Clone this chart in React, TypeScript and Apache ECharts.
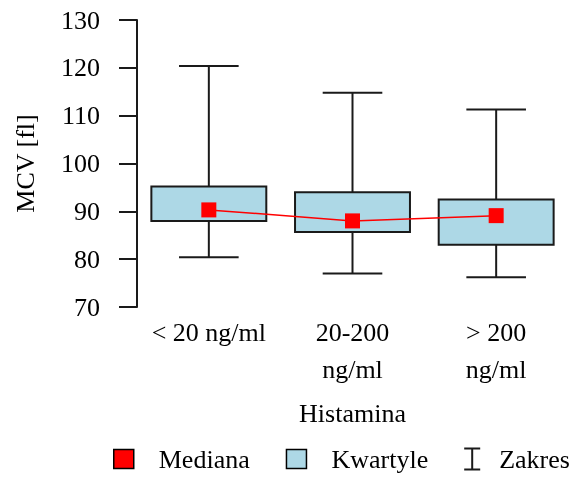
import React, { useEffect, useRef } from "react";
import * as echarts from "echarts";

const categories = ["< 20 ng/ml", "20-200\nng/ml", "> 200\nng/ml"];
const medians = [90.3, 88.0, 89.1];
const q1 = [88.0, 85.7, 83.0];
const q3 = [95.2, 94.0, 92.5];
const mins = [80.4, 77.0, 76.2];
const maxs = [120.4, 114.8, 111.3];
const yTicks = { min: 70, max: 130, interval: 10 };

const FONT = "Liberation Serif";
const TXT = "#000";
const LINE = "#1a1a1a";

export default function App() {
  const ref = useRef<HTMLDivElement>(null);
  useEffect(() => {
    if (!ref.current) return;
    const chart = echarts.init(ref.current, undefined, { renderer: "svg" });
    const rangeData = categories.map((_, i) => [i, mins[i], maxs[i]]);
    const boxData = categories.map((_, i) => [i, q1[i], q3[i]]);
    chart.setOption({
      animation: false,
      textStyle: { fontFamily: FONT, color: TXT },
      grid: { left: 137, right: 9, top: 20, bottom: 172 },
      xAxis: {
        type: "category",
        data: categories,
        boundaryGap: true,
        axisLine: { show: false },
        axisTick: { show: false },
        axisLabel: { fontFamily: FONT, fontSize: 26, color: TXT, margin: 7, lineHeight: 37, interval: 0 },
        name: "Histamina",
        nameLocation: "middle",
        nameGap: 93,
        nameTextStyle: { fontFamily: FONT, fontSize: 26, color: TXT },
      },
      yAxis: {
        type: "value",
        min: yTicks.min,
        max: yTicks.max,
        interval: yTicks.interval,
        splitLine: { show: false },
        axisLine: { show: true, lineStyle: { color: LINE, width: 2 } },
        axisTick: { show: true, length: 18, lineStyle: { color: LINE, width: 2 } },
        axisLabel: { fontFamily: FONT, fontSize: 26, color: TXT, margin: 37 },
        name: "MCV [fl]",
        nameLocation: "middle",
        nameGap: 99,
        nameTextStyle: { fontFamily: FONT, fontSize: 26, color: TXT },
      },
      legend: {
        left: 113,
        top: 446,
        width: 464,
        padding: 0,
        itemWidth: 20,
        itemHeight: 23,
        itemGap: 36,
        textStyle: { fontFamily: FONT, fontSize: 26, color: TXT, padding: [0, 0, 0, 20] },
        data: [
          { name: "Mediana", icon: "path://M0,0h20v19h-20z", itemStyle: { color: "#ff0000", borderColor: "#000", borderWidth: 1.5 } },
          { name: "Kwartyle", icon: "path://M0,0h20v19h-20z", itemStyle: { color: "#add8e6", borderColor: "#000", borderWidth: 1.5 } },
          {
            name: "Zakres",
            icon: "path://M0,0h16v2h-7v19h7v2h-16v-2h7v-19h-7z",
            itemStyle: { color: LINE, borderWidth: 0 },
            textStyle: { padding: [0, 0, 0, 12] },
          },
        ],
      },
      series: [
        {
          name: "Zakres",
          type: "custom",
          z: 1,
          encode: { x: 0, y: [1, 2] },
          itemStyle: { color: LINE },
          data: rangeData,
          renderItem: (params: any, api: any) => {
            const i = api.value(0);
            const lo = api.coord([i, api.value(1)]);
            const hi = api.coord([i, api.value(2)]);
            const half = api.size([1, 0])[0] * 0.415 / 2;
            const style = { stroke: LINE, lineWidth: 2 };
            return {
              type: "group",
              children: [
                { type: "line", shape: { x1: lo[0], y1: lo[1], x2: hi[0], y2: hi[1] }, style },
                { type: "line", shape: { x1: hi[0] - half, y1: hi[1], x2: hi[0] + half, y2: hi[1] }, style },
                { type: "line", shape: { x1: lo[0] - half, y1: lo[1], x2: lo[0] + half, y2: lo[1] }, style },
              ],
            };
          },
        },
        {
          name: "Kwartyle",
          type: "custom",
          z: 2,
          encode: { x: 0, y: [1, 2] },
          itemStyle: { color: "#add8e6" },
          data: boxData,
          renderItem: (params: any, api: any) => {
            const i = api.value(0);
            const lo = api.coord([i, api.value(1)]);
            const hi = api.coord([i, api.value(2)]);
            const w = api.size([1, 0])[0] * 0.8;
            return {
              type: "rect",
              shape: { x: lo[0] - w / 2, y: hi[1], width: w, height: lo[1] - hi[1] },
              style: { fill: "#add8e6", stroke: LINE, lineWidth: 2 },
            };
          },
        },
        {
          name: "Mediana",
          type: "line",
          z: 3,
          data: medians,
          symbol: "rect",
          symbolSize: 15,
          itemStyle: { color: "#ff0000" },
          lineStyle: { color: "#ff0000", width: 1.5 },
        },
      ],
    });
    return () => chart.dispose();
  }, []);
  return <div ref={ref} style={{ position: "fixed", left: 0, top: 0, width: 577, height: 479 }} />;
}
